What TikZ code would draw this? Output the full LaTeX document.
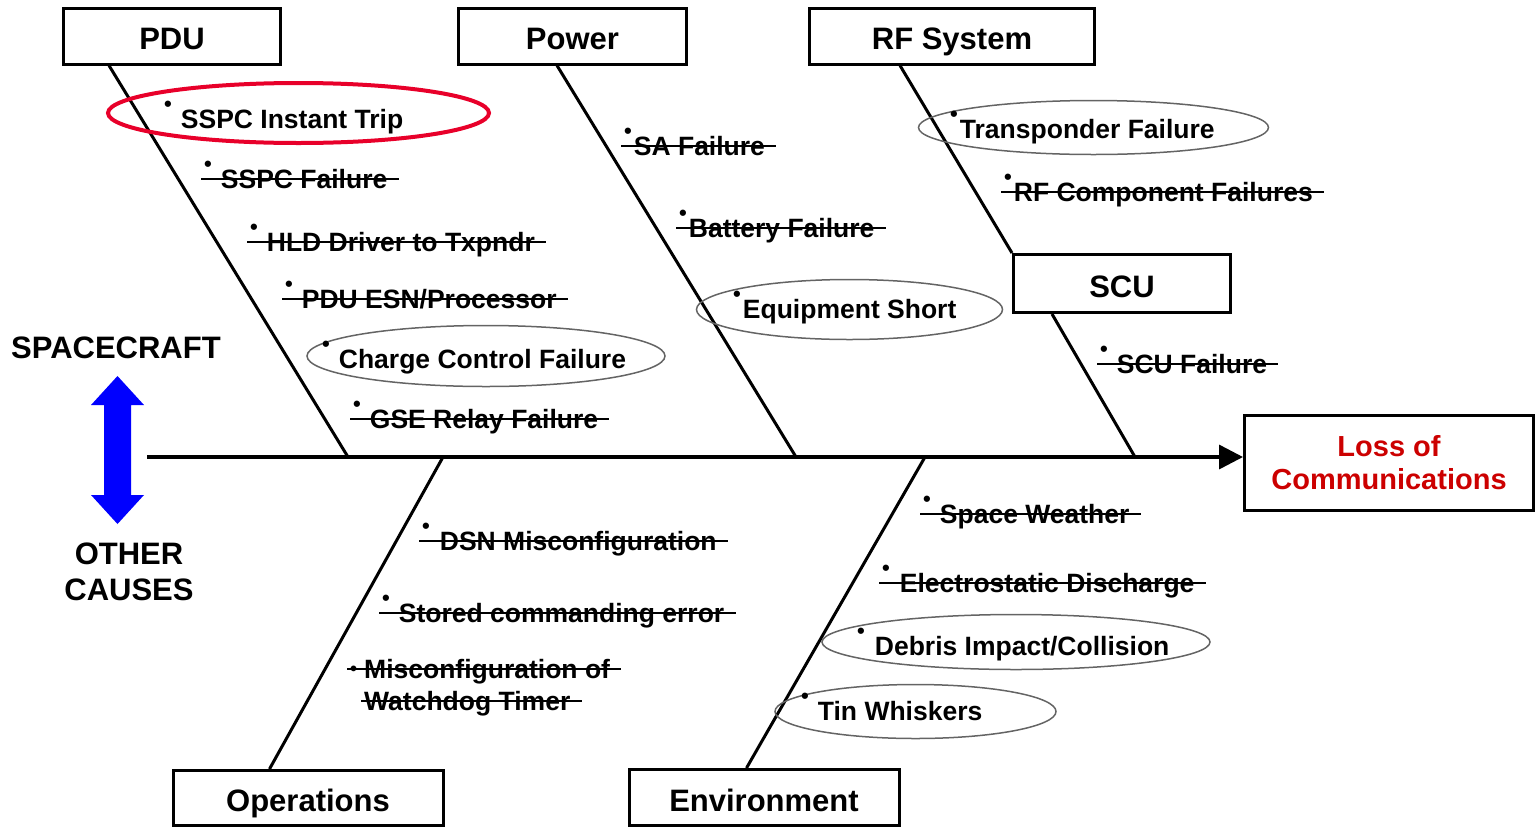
\documentclass[tikz,border=0pt]{standalone}
\usepackage{fontspec}
\setmainfont{Liberation Sans}
\usetikzlibrary{arrows.meta}
\definecolor{losered}{RGB}{204,0,0}
\definecolor{ringred}{RGB}{232,0,42}
\definecolor{ringgray}{RGB}{100,100,100}
\newcommand\bul[1][9pt]{\raisebox{.62em}{\fontsize{22}{22}\selectfont\textbullet}\hspace{#1}}
\begin{document}
\begin{tikzpicture}[x=1pt,y=-1pt,
    cat/.style={draw,line width=3pt,minimum width=#1,minimum height=56pt,inner sep=0pt,
        font=\fontsize{31}{31}\selectfont\bfseries,text height=27pt,text depth=0pt},
    cause/.style={anchor=base west,inner xsep=3pt,inner ysep=2pt,font=\fontsize{26.5}{30}\selectfont\bfseries},
    struck/.style={append after command={([yshift=9pt]\tikzlastnode.base west)
        edge[line width=1.5pt] ([xshift=8pt,yshift=9pt]\tikzlastnode.base east)}},
    side/.style={anchor=base,font=\fontsize{31}{31}\selectfont\bfseries},
    bone/.style={line width=3pt},
    ring/.style={draw=ringgray,line width=1.5pt}]
    \useasboundingbox (0,0) rectangle (1536,828);

    \node[cat=217pt] (pdu) at (172,36) {PDU};
    \node[cat=228pt] (power) at (572.5,36) {Power};
    \node[cat=285pt] (rf) at (952,36) {RF System};
    \node[cat=217pt,minimum height=58pt] (scu) at (1122,283.5) {SCU};
    \node[cat=270pt,minimum height=55pt] (ops) at (308,798) {Operations};
    \node[cat=270pt] (env) at (764,797.5) {Environment};
    \node[draw,line width=3pt,minimum width=289pt,minimum height=95pt,align=center,text=losered,
        font=\fontsize{29}{33}\selectfont\bfseries] (loss) at (1389,463) {Loss of\\Communications};

    \coordinate (tail) at (147,457);
    \coordinate (pdu-j) at (348,457);
    \coordinate (power-j) at (796,457);
    \coordinate (scu-j) at (1135,457);
    \coordinate (ops-j) at (443,457);
    \coordinate (env-j) at (925,457);

    \draw[line width=3.5pt,-{Triangle[length=24pt,width=24pt]}] (tail) -- (tail -| loss.west);
    \draw[bone] ([xshift=47pt]pdu.south west) -- (pdu-j);
    \draw[bone] ([xshift=100pt]power.south west) -- (power-j);
    \draw[bone] ([xshift=92pt]rf.south west) -- (scu.north west);
    \draw[bone] ([xshift=40pt]scu.south west) -- (scu-j);
    \draw[bone] (ops-j) -- ([xshift=98pt]ops.north west);
    \draw[bone] (env-j) -- ([xshift=119pt]env.north west);

    \fill[blue] (104,405) -- (91,405) -- (117.5,376) -- (144,405) -- (131,405)
        -- (131,495) -- (144,495) -- (117.5,524) -- (91,495) -- (104,495) -- cycle;
    \node[side] (sc) at (116,358) {SPACECRAFT};
    \node[side] (other) at (129,564) {OTHER};
    \node[side] (causes) at (129,600) {CAUSES};

    \draw[draw=ringred,line width=4pt] (298.5,113) ellipse (190.5 and 30);
    \draw[ring] (486,356) ellipse (179 and 30.5);
    \draw[ring] (849.5,309.5) ellipse (153 and 30);
    \draw[ring] (1093.5,127.5) ellipse (175 and 27);
    \draw[ring] (1016,642) ellipse (194 and 27.5);
    \draw[ring] (915.5,711.5) ellipse (140.5 and 27);

    \node[cause] (sspc-trip) at (161,128) {\bul SSPC Instant Trip};
    \node[cause,struck] (sspc-fail) at (201,188) {\bul SSPC Failure};
    \node[cause,struck] (hld) at (247,251) {\bul HLD Driver to Txpndr};
    \node[cause,struck] (esn) at (282,308) {\bul PDU ESN/Processor};
    \node[cause] (charge) at (319,368) {\bul Charge Control Failure};
    \node[cause,struck] (gse) at (350,428) {\bul GSE Relay Failure};

    \node[cause,struck] (sa) at (621,155) {\bul[2pt]SA Failure};
    \node[cause,struck] (battery) at (676,237) {\bul[2pt]Battery Failure};
    \node[cause] (equip) at (730,318) {\bul[2pt]Equipment Short};

    \node[cause] (transp) at (947,138) {\bul[2pt]Transponder Failure};
    \node[cause,struck] (rf-comp) at (1001,201) {\bul[2pt]RF Component Failures};
    \node[cause,struck] (scu-fail) at (1097,373) {\bul SCU Failure};

    \node[cause,struck] (dsn) at (419,550) {\bul[10pt]DSN Misconfiguration};
    \node[cause,struck] (stored) at (379,622) {\bul Stored commanding error};
    \node[cause,struck] (watchdog-a) at (347,678)
        {\raisebox{3pt}{\fontsize{20}{20}\selectfont\textbullet}\hspace{7pt}Misconfiguration of};
    \node[cause,struck] (watchdog-b) at (361,710) {Watchdog Timer};

    \node[cause,struck] (weather) at (920,523) {\bul Space Weather};
    \node[cause,struck] (esd) at (879,592) {\bul[10pt]Electrostatic Discharge};
    \node[cause] (debris) at (854,655) {\bul[10pt]Debris Impact/Collision};
    \node[cause] (tin) at (798,720) {\bul Tin Whiskers};
\end{tikzpicture}
\end{document}
